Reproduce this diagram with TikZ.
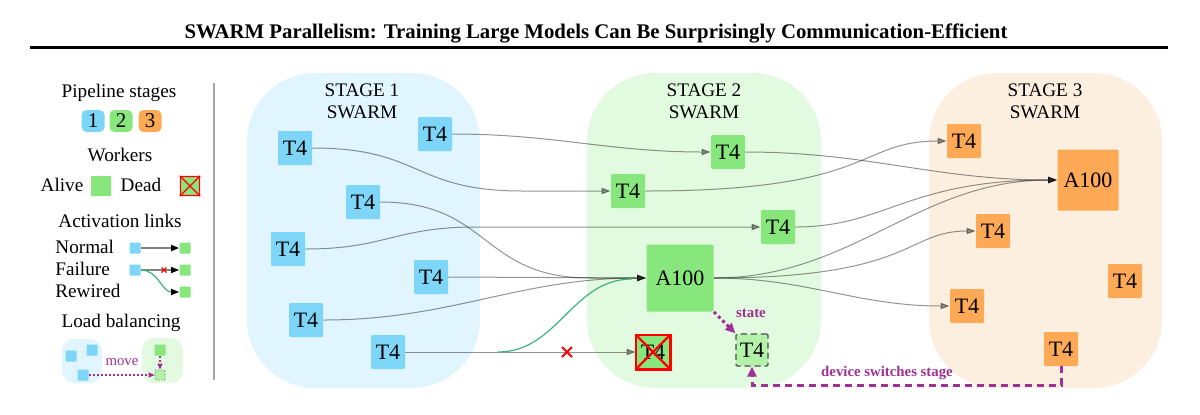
\documentclass[tikz,border=0pt]{standalone}
\usepackage{fontspec}
\setmainfont{Liberation Serif}
\usetikzlibrary{arrows.meta}
\definecolor{bgblue}{RGB}{224,245,253}
\definecolor{bggreen}{RGB}{226,251,224}
\definecolor{bgorange}{RGB}{253,239,223}
\definecolor{nblue}{RGB}{125,214,248}
\definecolor{ngreen}{RGB}{135,231,124}
\definecolor{norange}{RGB}{253,169,85}
\definecolor{nlight}{RGB}{180,242,172}
\definecolor{purp}{RGB}{160,48,150}
\definecolor{rewire}{RGB}{60,180,120}
\tikzset{
  wk/.style={minimum size=17pt, inner sep=0pt, rounded corners=0.6pt, font=\fontsize{11}{11}\selectfont},
  big/.style={wk, minimum size=#1},
  lab/.style={font=\fontsize{9.6}{11}\selectfont, inner sep=0pt},
  badge/.style={minimum width=11.5pt, minimum height=11pt, inner sep=0pt, rounded corners=2.5pt, font=\fontsize{10.5}{11}\selectfont},
  mini/.style={minimum size=5.5pt, inner sep=0pt, rounded corners=0.3pt},
  link/.style={draw=black, opacity=0.42, line width=0.5pt, -{Triangle[length=4.5pt,width=3.2pt]}},
  redx/.style={draw=red, line width=0.9pt},
  purpdash/.style={draw=purp, line width=1.5pt, dash pattern=on 3.5pt off 2.5pt, -{Triangle[length=5pt,width=4.5pt]}},
  purpdot/.style={draw=purp, line width=1.5pt, dash pattern=on 1.5pt off 1.5pt, -{Triangle[length=5pt,width=4.5pt]}},
  stagebg/.style={rounded corners=34pt},
  stitle/.style={font=\fontsize{9.6}{11}\selectfont, align=center, inner sep=0pt},
}
\begin{document}
\begin{tikzpicture}[x=0.5pt,y=-0.5pt]
\useasboundingbox (0,0) rectangle (1200,414);
% title
\node[inner sep=0pt, font=\bfseries\fontsize{10.4}{11}\selectfont] (title) at (596,33) {SWARM Parallelism: Training Large Models Can Be Surprisingly Communication-Efficient};
\draw[line width=1.5pt] (30,47) -- (1168,47);
% separator
\draw[black!35, line width=0.8pt] (214,83) -- (214,380);

% ---------- legend
\node[lab] (lps) at (119,93) {Pipeline stages};
\node[badge, fill=nblue] (b1) at (93,121) {1};
\node[badge, fill=ngreen] (b2) at (121,121) {2};
\node[badge, fill=norange] (b3) at (150,121) {3};
\node[lab] (lwk) at (120,155) {Workers};
\node[lab] (lalive) at (62,185) {Alive};
\node[mini, fill=ngreen, minimum size=10pt] (alivebox) at (101,186) {};
\node[lab] (ldead) at (141,185) {Dead};
\node[mini, fill=ngreen, draw=red, line width=0.7pt, minimum size=9.5pt] (deadbox) at (190,186) {};
\draw[red, line width=0.6pt] (deadbox.north west) -- (deadbox.south east) (deadbox.north east) -- (deadbox.south west);
\node[lab] (lact) at (120,221) {Activation links};
\node[lab, anchor=west] (lnorm) at (55,247) {Normal};
\node[lab, anchor=west] (lfail) at (55,269) {Failure};
\node[lab, anchor=west] (lrew) at (55,291) {Rewired};
\node[mini, fill=nblue] (nb1) at (135,248) {};
\node[mini, fill=ngreen] (ng1) at (185,248) {};
\node[mini, fill=nblue] (nb2) at (135,270) {};
\node[mini, fill=ngreen] (ng2) at (185,270) {};
\node[mini, fill=ngreen] (ng3) at (185,292) {};
\draw[black!50, line width=1pt, -{Triangle[length=4pt,width=3pt,black]}] (nb1) -- (ng1);
\draw[black!50, line width=0.6pt, -{Triangle[length=4pt,width=3pt,black]}] (nb2) -- (ng2);
\coordinate (lx) at (164,270);
\draw[red, line width=0.6pt] (lx) ++(-2.5,-2.5) -- ++(5,5) (lx) ++(2.5,-2.5) -- ++(-5,5);
\draw[rewire, line width=0.6pt, -{Triangle[length=4pt,width=3pt,black]}] (nb2.east) to[out=0,in=180] (ng3.west);
\node[lab] (llb) at (121,323) {Load balancing};
\fill[bgblue, rounded corners=6pt] (62,339) rectangle (102,383);
\fill[bggreen, rounded corners=6pt] (142,338) rectangle (183,383);
\node[mini, fill=nblue] (lb1) at (71,356) {};
\node[mini, fill=nblue] (lb2) at (92,350) {};
\node[mini, fill=nblue] (lb3) at (83,375) {};
\node[mini, fill=ngreen] (lg1) at (160,350) {};
\node[mini, fill=nlight, draw=black!70, densely dotted, line width=0.4pt, minimum size=5pt] (lg2) at (160,375) {};
\draw[purp, line width=0.7pt, dash pattern=on 1pt off 1pt, -{Triangle[length=3pt,width=2.5pt]}] (lg1) -- (lg2);
\draw[purp, line width=0.7pt, dash pattern=on 1pt off 1pt, -{Triangle[length=3pt,width=2.5pt]}] (lb3) -- (lg2);
\node[text=purp, font=\fontsize{7.4}{8}\selectfont, inner sep=0pt] (lmove) at (122,362) {move};

% ---------- stage backgrounds
\fill[bgblue, stagebg] (247,73) rectangle (480,388);
\fill[bggreen, stagebg] (587,73) rectangle (821,388);
\fill[bgorange, stagebg] (929,73) rectangle (1162,388);
\node[stitle] (st1) at (362,101) {STAGE 1\\SWARM};
\node[stitle] (st2) at (704,101) {STAGE 2\\SWARM};
\node[stitle] (st3) at (1045,101) {STAGE 3\\SWARM};

% ---------- stage 1 workers
\node[wk, fill=nblue] (a1) at (295,148) {T4};
\node[wk, fill=nblue] (a2) at (435,134) {T4};
\node[wk, fill=nblue] (a3) at (363,202) {T4};
\node[wk, fill=nblue] (a4) at (288,249) {T4};
\node[wk, fill=nblue] (a5) at (431,277) {T4};
\node[wk, fill=nblue] (a6) at (306,320) {T4};
\node[wk, fill=nblue] (a7) at (388,352) {T4};
% ---------- stage 2 workers
\node[wk, fill=ngreen] (b1w) at (728,152) {T4};
\node[wk, fill=ngreen] (b2w) at (628,191) {T4};
\node[wk, fill=ngreen] (b3w) at (778,227) {T4};
\node[big=33.5pt, fill=ngreen] (bA) at (680,278) {A100};
\node[wk, fill=ngreen] (bdead) at (653,352) {T4};
\node[wk, fill=nlight, draw=black!70, densely dashed, line width=0.6pt, minimum size=16pt] (bnew) at (752,350) {T4};
% ---------- stage 3 workers
\node[wk, fill=norange] (c1) at (964,141) {T4};
\node[big=30.5pt, fill=norange] (cA) at (1088,180) {A100};
\node[wk, fill=norange] (c2) at (993,231) {T4};
\node[wk, fill=norange] (c3) at (1125,281) {T4};
\node[wk, fill=norange] (c4) at (967,306) {T4};
\node[wk, fill=norange] (c5) at (1061,349) {T4};

% ---------- links stage 1 -> 2
\draw[link] (a1.east) .. controls +(110,0) and +(-110,0) .. ++(210,43) -- (b2w.west);
\draw[link] (a2.east) to[out=0,in=180] (b1w.west);
\draw[link] (a3.east) .. controls +(110,0) and +(-110,0) .. ++(210,76) -- (bA.west);
\draw[link] (a4.east) .. controls +(80,0) and +(-80,0) .. ++(170,-22) -- (b3w.west);
\draw[link] (a5.east) -- (bA.west);
\draw[link] (a6.east) to[out=0,in=180] (bA.west);
\draw[link] (a7.east) -- (bdead.west);
\coordinate (rw) at (498,352);
\draw[rewire, line width=0.6pt] (rw) .. controls +(60,0) and +(-60,0) .. (632,279);
\draw[redx] (567,352) ++(-5,-5) -- ++(10,10) (567,352) ++(5,-5) -- ++(-10,10);
% dead marker
\draw[red, line width=1.1pt] (bdead.north west) rectangle (bdead.south east);
\draw[red, line width=1.1pt] (bdead.north west) -- (bdead.south east) (bdead.north east) -- (bdead.south west);

% ---------- links stage 2 -> 3
\draw[link] (b1w.east) to[out=0,in=180] (cA.west);
\draw[link] (b2w.east) .. controls +(230,0) and +(-90,0) .. (c1.west);
\draw[link] (b3w.east) .. controls +(90,0) and +(-150,0) .. (cA.west);
\draw[link] (bA.east) to[out=0,in=180] (cA.west);
\draw[link] (bA.east) .. controls +(200,0) and +(-70,0) .. (c2.west);
\draw[link] (bA.east) to[out=0,in=180] (c4.west);

% ---------- state move
\draw[purpdot] (bA.south east) -- (bnew.north west);
\node[text=purp, font=\bfseries\fontsize{7.4}{8}\selectfont, inner sep=0pt] (lstate) at (751,313) {state};
\coordinate (turn) at (1061,385);
\draw[purpdash] (c5.south) -- (turn) -| (bnew.south);
\node[text=purp, font=\bfseries\fontsize{7.4}{8}\selectfont, inner sep=0pt] (lswitch) at (887,373) {device switches stage};
\end{tikzpicture}
\end{document}
